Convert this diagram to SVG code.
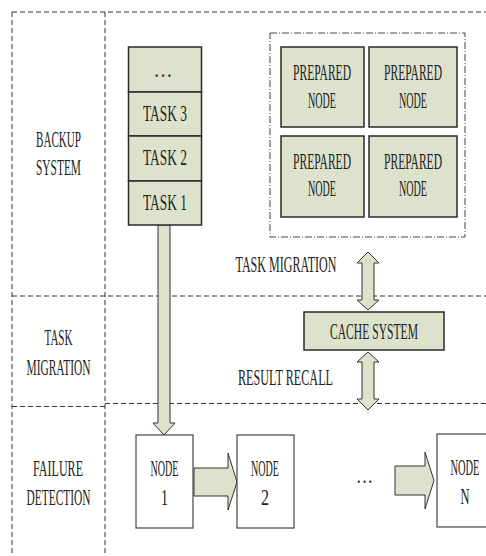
<svg xmlns="http://www.w3.org/2000/svg" width="486" height="556" viewBox="0 0 486 556">
  <style>
    .frame { fill: none; stroke: #333; stroke-width: 1; stroke-dasharray: 5 3; }
    .group { fill: none; stroke: #444; stroke-width: 1; stroke-dasharray: 7 2 1 2; }
    .box { fill: #dde2cc; stroke: #2a2a2a; stroke-width: 1.5; }
    .plain { fill: #fff; stroke: #444; stroke-width: 1.2; }
    .arrow { fill: #dde2cc; stroke: #333; stroke-width: 1; }
    text { font-family: "Liberation Serif", "Times New Roman", serif; font-size: 23px; fill: #222; text-anchor: middle; }
  </style>

  <!-- swimlane frame -->
  <g id="frame">
    <line class="frame" x1="12" y1="12" x2="486" y2="12"/>
    <line class="frame" x1="12" y1="12" x2="12" y2="556"/>
    <line class="frame" x1="105" y1="12" x2="105" y2="556"/>
    <line class="frame" x1="12" y1="296" x2="486" y2="296"/>
    <line class="frame" x1="12" y1="406.5" x2="105" y2="406.5"/>
    <line class="frame" x1="105" y1="403.5" x2="486" y2="403.5"/>
  </g>

  <!-- lane titles (condensed lettering: half-width horizontal scale) -->
  <g id="lane-backup">
    <text transform="translate(58.5 147) scale(0.5 1)" textLength="90" lengthAdjust="spacingAndGlyphs">BACKUP</text>
    <text transform="translate(58.5 175) scale(0.5 1)" textLength="90" lengthAdjust="spacingAndGlyphs">SYSTEM</text>
  </g>
  <g id="lane-migration">
    <text transform="translate(58.5 345) scale(0.5 1)" textLength="56" lengthAdjust="spacingAndGlyphs">TASK</text>
    <text transform="translate(58.5 375) scale(0.5 1)" textLength="128" lengthAdjust="spacingAndGlyphs">MIGRATION</text>
  </g>
  <g id="lane-detection">
    <text transform="translate(58 476) scale(0.5 1)" textLength="100" lengthAdjust="spacingAndGlyphs">FAILURE</text>
    <text transform="translate(58.5 505) scale(0.5 1)" textLength="128" lengthAdjust="spacingAndGlyphs">DETECTION</text>
  </g>

  <!-- connectors -->
  <g id="connectors">
    <polygon class="arrow" points="158,225 170,225 170,423 175,423 164,435 153,423 158,423"/>
    <polygon class="arrow" points="368,252 379,263 374,263 374,300 379,300 368,310 357,300 362,300 362,263 357,263"/>
    <polygon class="arrow" points="368,352 379,362 374,362 374,399 379,399 368,410 357,399 362,399 362,362 357,362"/>
    <polygon class="arrow" points="194,468 228,468 228,453 237,482 228,510 228,496 194,496"/>
    <polygon class="arrow" points="395,466 425,466 425,452 434,480.5 425,509 425,495 395,495"/>
    <text transform="translate(286 272) scale(0.5 1)" textLength="202" lengthAdjust="spacingAndGlyphs">TASK MIGRATION</text>
    <text transform="translate(285.5 385) scale(0.5 1)" textLength="190" lengthAdjust="spacingAndGlyphs">RESULT RECALL</text>
  </g>

  <!-- task queue -->
  <g id="task-queue">
    <rect class="box" x="128.5" y="47" width="73" height="45"/>
    <rect class="box" x="128.5" y="92" width="73" height="44"/>
    <rect class="box" x="128.5" y="136" width="73" height="45"/>
    <rect class="box" x="128.5" y="181" width="73" height="44"/>
    <text transform="translate(163 77) scale(0.5 1)" textLength="38" lengthAdjust="spacingAndGlyphs">…</text>
    <text transform="translate(165 121) scale(0.5 1)" textLength="88" lengthAdjust="spacingAndGlyphs">TASK 3</text>
    <text transform="translate(165 165) scale(0.5 1)" textLength="88" lengthAdjust="spacingAndGlyphs">TASK 2</text>
    <text transform="translate(165 210) scale(0.5 1)" textLength="88" lengthAdjust="spacingAndGlyphs">TASK 1</text>
  </g>

  <!-- pool of prepared nodes -->
  <g id="prepared-pool">
    <rect class="group" x="270" y="33" width="195" height="204"/>
    <g id="prepared-1">
      <rect class="box" x="281" y="47" width="83" height="80"/>
      <text transform="translate(322 80) scale(0.5 1)" textLength="116" lengthAdjust="spacingAndGlyphs">PREPARED</text>
      <text transform="translate(322 108) scale(0.5 1)" textLength="56" lengthAdjust="spacingAndGlyphs">NODE</text>
    </g>
    <g id="prepared-2">
      <rect class="box" x="369" y="47" width="88" height="80"/>
      <text transform="translate(413 80) scale(0.5 1)" textLength="116" lengthAdjust="spacingAndGlyphs">PREPARED</text>
      <text transform="translate(413 108) scale(0.5 1)" textLength="56" lengthAdjust="spacingAndGlyphs">NODE</text>
    </g>
    <g id="prepared-3">
      <rect class="box" x="281" y="136" width="83" height="81"/>
      <text transform="translate(322 169) scale(0.5 1)" textLength="116" lengthAdjust="spacingAndGlyphs">PREPARED</text>
      <text transform="translate(322 196) scale(0.5 1)" textLength="56" lengthAdjust="spacingAndGlyphs">NODE</text>
    </g>
    <g id="prepared-4">
      <rect class="box" x="369" y="136" width="88" height="81"/>
      <text transform="translate(413 169) scale(0.5 1)" textLength="116" lengthAdjust="spacingAndGlyphs">PREPARED</text>
      <text transform="translate(413 196) scale(0.5 1)" textLength="56" lengthAdjust="spacingAndGlyphs">NODE</text>
    </g>
  </g>

  <!-- cache -->
  <g id="cache-system">
    <rect class="box" x="304" y="312" width="140" height="38"/>
    <text transform="translate(374 339) scale(0.5 1)" textLength="176" lengthAdjust="spacingAndGlyphs">CACHE SYSTEM</text>
  </g>

  <!-- working nodes -->
  <g id="node-1">
    <rect class="plain" x="136" y="435" width="57" height="93"/>
    <text transform="translate(164.5 476) scale(0.5 1)" textLength="56" lengthAdjust="spacingAndGlyphs">NODE</text>
    <text transform="translate(164.5 505) scale(0.5 1)" textLength="14" lengthAdjust="spacingAndGlyphs">1</text>
  </g>
  <g id="node-2">
    <rect class="plain" x="237" y="435" width="57" height="93"/>
    <text transform="translate(265 476) scale(0.5 1)" textLength="56" lengthAdjust="spacingAndGlyphs">NODE</text>
    <text transform="translate(265 505) scale(0.5 1)" textLength="16" lengthAdjust="spacingAndGlyphs">2</text>
  </g>
  <g id="node-gap">
    <text transform="translate(364.5 483) scale(0.5 1)" textLength="34" lengthAdjust="spacingAndGlyphs">…</text>
  </g>
  <g id="node-n">
    <rect class="plain" x="437" y="434" width="57" height="93"/>
    <text transform="translate(465 475) scale(0.5 1)" textLength="58" lengthAdjust="spacingAndGlyphs">NODE</text>
    <text transform="translate(465 504) scale(0.5 1)" textLength="18" lengthAdjust="spacingAndGlyphs">N</text>
  </g>
</svg>
